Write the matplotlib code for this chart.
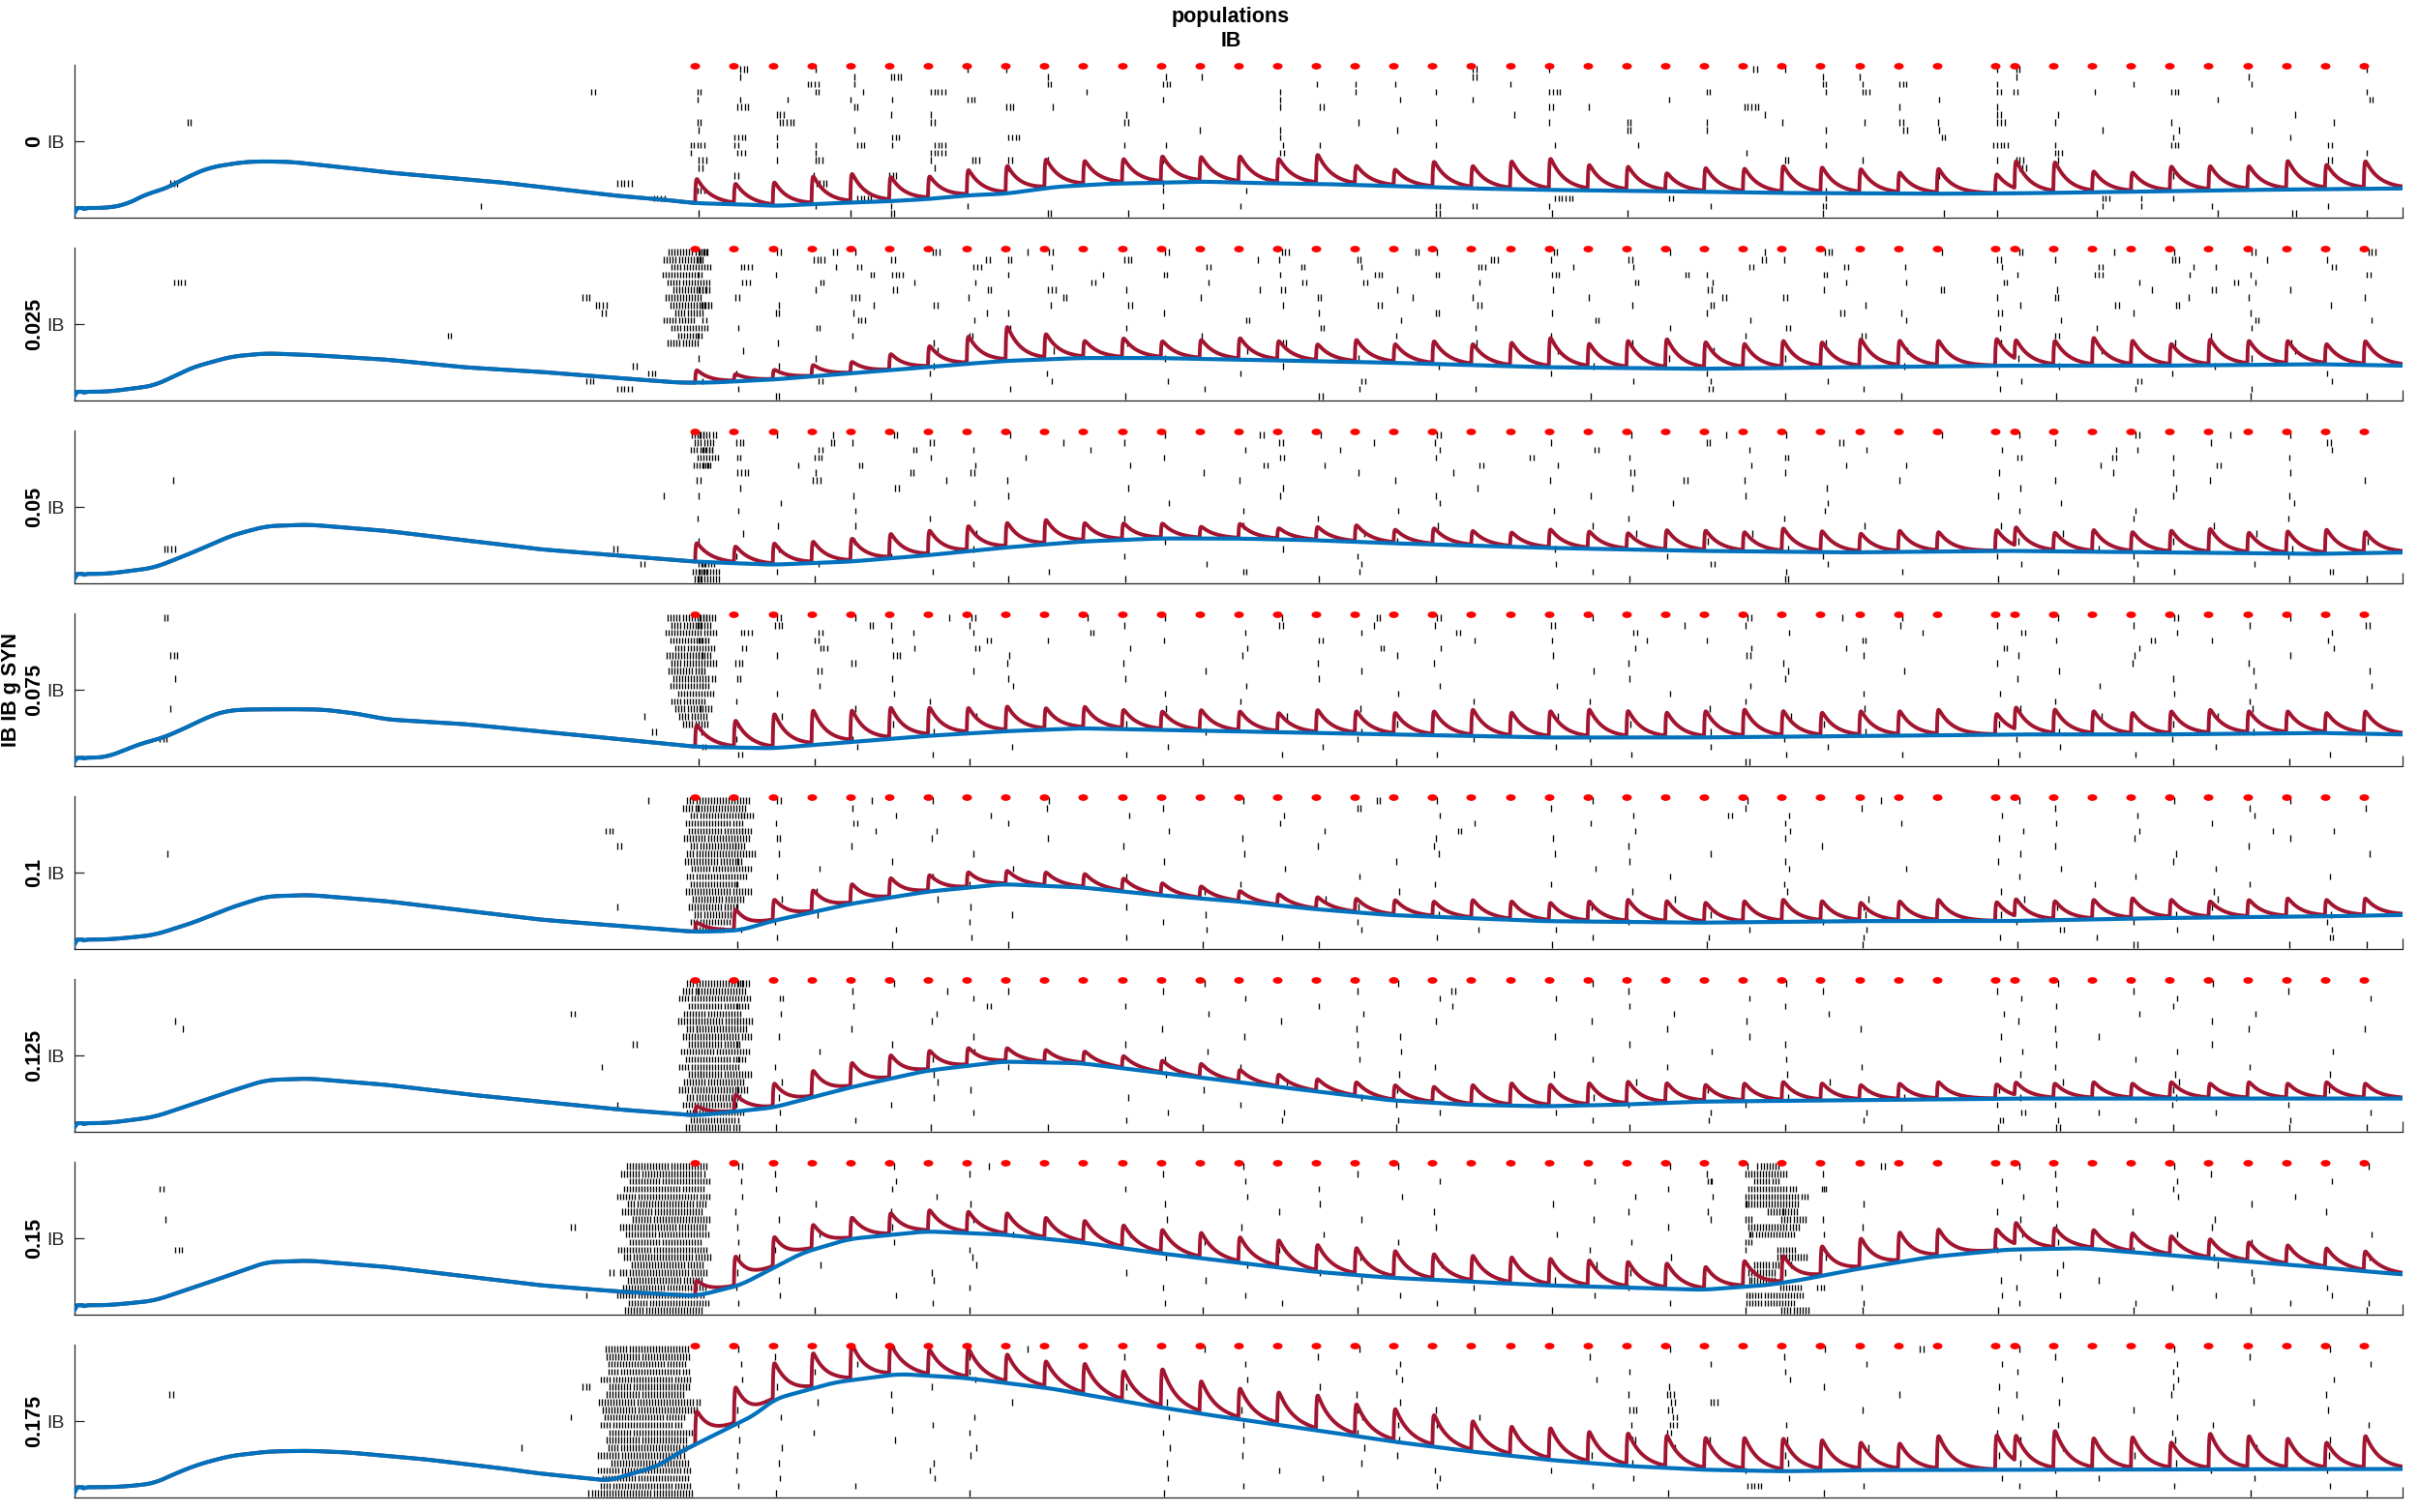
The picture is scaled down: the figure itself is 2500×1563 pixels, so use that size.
import numpy as np
import matplotlib
matplotlib.use("Agg")
import matplotlib.pyplot as plt
from matplotlib.path import Path

plt.rcParams['font.family'] = ['Liberation Sans', 'DejaVu Sans']

# ---------------- text ----------------
title_lines = ["populations", "IB"]
group_label = "IB IB g SYN"
ytick_label = "IB"
panel_labels = ["0", "0.025", "0.05", "0.075", "0.1", "0.125", "0.15", "0.175"]

# ---------------- stimulus times (ms) ----------------
stim_times = [800, 850, 900, 950, 1000, 1050, 1100, 1150, 1200, 1250, 1300, 1350,
              1400, 1450, 1500, 1550, 1600, 1650, 1700, 1750, 1800, 1850, 1900,
              1950, 2000, 2050, 2100, 2150, 2200, 2250, 2300, 2350, 2400, 2475,
              2500, 2550, 2600, 2650, 2700, 2750, 2800, 2850, 2900, 2950]

# typical burst latency of each cell after a stimulus (ms), top row first
row_latency = [6, 3, 9, 4, 11, 5, 2, 8, 4, 10, 6, 3, 7, 12, 5, 8, 3, 9, 6, 4]

# ---------------- slow (blue) traces: control points (ms, row units) ----------------
base_t_0 = [0, 4, 41, 66, 83, 96, 112, 133, 154, 175, 195, 216, 237, 278, 320, 362, 403, 549, 620, 692, 763, 801, 856, 903, 978, 1042, 1100, 1153, 1200, 1265, 1330, 1376, 1450, 1525, 1600, 1700, 1800, 1900, 2000, 2100, 2200, 2300, 2400, 2500, 2647, 2800, 3000]
base_y_0 = [1.0, 1.72, 1.72, 2.14, 3.0, 3.75, 4.0, 5.1, 6.2, 7.05, 7.4, 7.73, 7.86, 7.8, 7.35, 6.9, 6.4, 5.1, 4.26, 3.4, 2.78, 2.35, 2.2, 2.0, 2.35, 2.57, 2.9, 3.4, 3.6, 4.5, 4.9, 5.0, 5.2, 5.0, 4.9, 4.6, 4.3, 4.1, 4.0, 3.85, 3.7, 3.65, 3.6, 3.65, 3.85, 4.1, 4.3]

base_t_1 = [0, 4, 41, 66, 103, 153, 203, 247, 302, 401, 501, 600, 700, 779, 819, 899, 998, 1097, 1196, 1296, 1395, 1495, 1693, 1892, 2091, 2290, 2489, 2687, 2886, 3000]
base_y_1 = [1.0, 1.6, 1.6, 1.9, 2.4, 4.83, 6.24, 6.65, 6.45, 5.84, 4.83, 4.22, 3.41, 2.8, 2.8, 3.2, 4.0, 4.83, 5.64, 6.04, 6.04, 5.84, 5.43, 4.83, 4.62, 4.83, 5.03, 5.03, 5.23, 5.03]

base_t_2 = [0, 4, 41, 66, 103, 153, 203, 247, 302, 401, 501, 600, 700, 801, 899, 998, 1097, 1196, 1296, 1395, 1495, 1594, 1693, 1892, 2091, 2290, 2489, 2687, 2886, 3000]
base_y_2 = [1.0, 1.69, 1.69, 2.0, 2.5, 4.52, 6.75, 7.97, 8.17, 7.36, 6.14, 4.93, 4.12, 3.3, 2.9, 3.3, 4.12, 5.13, 5.94, 6.35, 6.35, 6.14, 5.74, 5.13, 4.72, 4.52, 4.72, 4.52, 4.32, 4.52]

base_t_3 = [0, 4, 41, 87, 112, 133, 154, 175, 195, 216, 278, 320, 362, 403, 501, 600, 700, 801, 899, 998, 1097, 1196, 1296, 1395, 1495, 1693, 1892, 2091, 2290, 2489, 2687, 2886, 3000]
base_y_3 = [1.0, 1.55, 1.6, 3.46, 4.1, 5.0, 6.0, 7.05, 7.7, 7.9, 7.95, 7.9, 7.4, 6.6, 6.0, 5.03, 4.02, 3.0, 2.8, 3.61, 4.42, 5.03, 5.43, 5.23, 5.03, 4.62, 4.22, 4.22, 4.42, 4.62, 4.62, 4.83, 4.62]

base_t_4 = [0, 4, 41, 66, 103, 153, 203, 247, 302, 401, 501, 600, 700, 801, 858, 899, 998, 1097, 1196, 1296, 1395, 1495, 1594, 1693, 1892, 2091, 2290, 2489, 2687, 2886, 3000]
base_y_4 = [1.0, 1.69, 1.69, 1.9, 2.29, 3.91, 5.94, 7.36, 7.56, 6.75, 5.54, 4.32, 3.51, 2.7, 2.9, 4.12, 6.35, 7.97, 8.98, 8.57, 7.56, 6.75, 5.74, 4.93, 4.12, 3.91, 4.12, 4.12, 4.52, 4.72, 4.93]

base_t_5 = [0, 4, 41, 66, 103, 153, 203, 247, 302, 401, 501, 600, 700, 801, 899, 998, 1097, 1196, 1296, 1395, 1495, 1594, 1693, 1793, 1892, 1992, 2091, 2290, 2489, 2687, 2886, 3000]
base_y_5 = [1.0, 1.58, 1.6, 1.9, 2.4, 4.1, 5.84, 7.26, 7.46, 6.65, 5.43, 4.42, 3.41, 2.6, 3.61, 6.24, 8.47, 9.69, 9.49, 8.27, 7.05, 5.84, 4.62, 4.02, 3.81, 4.02, 4.42, 4.62, 4.83, 4.83, 4.83, 4.83]

base_t_6 = [0, 4, 41, 66, 103, 153, 203, 247, 302, 401, 501, 600, 700, 801, 858, 938, 998, 1097, 1196, 1296, 1395, 1495, 1594, 1693, 1892, 2098, 2182, 2223, 2286, 2389, 2489, 2588, 2687, 2787, 2886, 3000]
base_y_6 = [1.0, 1.69, 1.69, 1.9, 2.29, 4.0, 5.74, 7.36, 7.56, 6.75, 5.54, 4.32, 3.51, 2.9, 4.32, 8.57, 10.4, 11.41, 11.0, 9.99, 8.57, 7.36, 6.14, 5.33, 4.32, 3.72, 4.35, 4.99, 6.26, 8.0, 9.0, 9.2, 8.37, 7.56, 6.75, 5.74]

base_t_7 = [0, 4, 41, 66, 103, 130, 160, 200, 250, 300, 350, 450, 550, 600, 652, 690, 715, 752, 777, 802, 839, 877, 902, 980, 1063, 1146, 1258, 1369, 1463, 1600, 1700, 1800, 1900, 2000, 2100, 2200, 2300, 2500, 2700, 3000]
base_y_7 = [1.0, 1.8, 1.8, 1.9, 2.3, 3.6, 4.8, 5.9, 6.5, 6.6, 6.4, 5.5, 4.3, 3.6, 3.08, 2.65, 3.5, 4.55, 6.25, 7.5, 9.4, 11.3, 13.4, 15.6, 16.7, 16.2, 14.8, 12.8, 11.3, 9.3, 7.8, 6.5, 5.4, 4.6, 4.1, 3.9, 4.05, 4.1, 4.15, 4.2]

# ---------------- peak heights of the fast (red) trace at each stimulus ----------------
peak_0 = [5.53, 4.69, 4.9, 5.66, 5.96, 5.53, 5.66, 6.51, 7.02, 7.86, 7.65, 7.95, 8.29, 8.2, 8.29, 7.95, 8.5, 7.02, 6.6, 7.65, 7.02, 7.65, 7.95, 7.1, 6.93, 6.09, 6.81, 6.68, 7.02, 6.81, 6.6, 6.17, 6.68, 6.09, 7.23, 7.44, 6.26, 6.2, 7.0, 7.0, 7.0, 7.7, 7.15, 7.65]
peak_1 = [4.42, 3.81, 4.42, 5.03, 5.43, 6.45, 7.46, 8.68, 9.89, 8.88, 8.07, 8.47, 8.07, 8.27, 8.47, 8.07, 7.66, 8.27, 7.66, 8.07, 7.66, 7.86, 8.47, 7.66, 8.07, 8.27, 7.86, 7.66, 8.07, 7.86, 8.27, 8.07, 8.07, 8.47, 7.46, 8.07, 8.47, 8.07, 7.66, 8.27, 8.07, 8.07, 7.66, 8.07]
peak_2 = [5.74, 5.13, 5.54, 5.74, 6.14, 6.75, 7.16, 7.76, 8.17, 8.57, 8.17, 8.17, 8.17, 7.76, 8.17, 7.56, 7.76, 7.97, 7.36, 7.56, 7.2, 7.0, 7.4, 7.1, 6.9, 7.3, 7.2, 7.0, 7.5, 7.1, 6.8, 7.2, 7.0, 7.4, 7.1, 6.9, 7.3, 7.0, 7.2, 7.4, 6.9, 7.1, 7.3, 7.0]
peak_3 = [5.84, 6.24, 7.05, 7.46, 7.46, 7.86, 7.86, 7.86, 8.07, 7.86, 8.07, 7.66, 7.46, 7.66, 7.46, 7.26, 7.66, 7.46, 7.26, 7.46, 7.66, 7.26, 7.46, 7.66, 7.46, 7.26, 7.46, 7.66, 7.46, 7.26, 7.46, 7.46, 7.66, 7.26, 7.46, 7.66, 7.46, 7.26, 7.46, 7.66, 7.46, 7.46, 7.26, 7.46]
peak_4 = [3.91, 5.54, 6.75, 7.97, 8.78, 9.59, 9.99, 10.4, 10.6, 10.4, 10.2, 9.59, 8.98, 8.57, 7.97, 7.56, 7.16, 6.95, 6.75, 6.55, 6.75, 6.55, 6.35, 6.55, 6.75, 6.55, 6.35, 6.55, 6.75, 6.55, 6.35, 6.55, 6.75, 6.55, 6.35, 6.55, 6.75, 6.95, 6.75, 6.55, 6.75, 6.95, 6.75, 6.95]
peak_5 = [3.81, 5.23, 6.65, 8.27, 9.28, 10.3, 10.9, 11.3, 11.3, 11.1, 10.9, 10.3, 9.69, 9.28, 8.47, 7.86, 7.26, 6.85, 6.45, 6.24, 6.45, 6.65, 6.45, 6.65, 6.85, 6.65, 6.45, 6.65, 6.85, 6.65, 6.45, 6.65, 6.85, 6.65, 6.45, 6.65, 6.85, 6.65, 6.85, 6.65, 6.85, 6.65, 6.85, 6.65]
peak_6 = [4.93, 7.97, 10.4, 12.0, 13.0, 13.6, 14.0, 13.8, 13.6, 13.0, 12.6, 12.0, 11.4, 11.0, 10.4, 10.0, 9.38, 8.98, 8.57, 8.17, 7.97, 7.76, 7.56, 7.36, 7.16, 6.95, 6.5, 7.3, 7.95, 9.2, 10.2, 11.0, 11.4, 11.6, 11.8, 11.6, 11.4, 11.0, 10.6, 10.2, 9.8, 9.4, 9.0, 8.6]
peak_7 = [11.76, 14.65, 17.8, 19.1, 20.2, 20.2, 19.6, 19.8, 19.0, 18.1, 17.8, 16.8, 17.05, 15.4, 14.5, 14.0, 13.6, 12.4, 11.8, 11.0, 10.2, 9.5, 9.3, 8.8, 8.6, 8.3, 8.0, 8.0, 7.9, 7.7, 7.4, 7.3, 8.3, 8.55, 7.4, 8.9, 7.9, 8.1, 7.4, 8.6, 8.2, 7.9, 7.4, 8.3]

# ---------------- spikes ----------------
# individual bursts: (row, start ms, number of spikes)
bursts_0 = [
    (20, 858, 3), (20, 955, 1), (20, 1151, 1), (20, 1201, 1), (20, 1802, 2), (20, 1901, 1), (20, 2164, 2), (20, 2204, 1), (20, 2478, 1), (20, 2502, 2), (20, 2954, 1),
    (19, 858, 1), (19, 1005, 1), (19, 1052, 4), (19, 1254, 1), (19, 1407, 1), (19, 1453, 1), (19, 1802, 2), (19, 2253, 1), (19, 2300, 1), (19, 2503, 1), (19, 2802, 1),
    (18, 945, 4), (18, 1005, 1), (18, 1254, 2), (18, 1403, 3), (18, 1601, 1), (18, 1651, 1), (18, 1702, 1), (18, 1851, 1), (18, 2253, 2), (18, 2304, 1), (18, 2352, 3), (18, 2478, 1), (18, 2653, 1), (18, 2805, 1),
    (17, 666, 2), (17, 803, 2), (17, 955, 2), (17, 1016, 1), (17, 1104, 5), (17, 1304, 1), (17, 1554, 1), (17, 1651, 1), (17, 1755, 1), (17, 1901, 4), (17, 2103, 2), (17, 2257, 1), (17, 2304, 3), (17, 2478, 2), (17, 2499, 2), (17, 2603, 1), (17, 2702, 3), (17, 2954, 1),
    (16, 803, 1), (16, 858, 1), (16, 919, 1), (16, 1000, 1), (16, 1054, 1), (16, 1151, 3), (16, 1403, 1), (16, 1554, 1), (16, 1709, 1), (16, 1802, 1), (16, 2055, 1), (16, 2403, 1), (16, 2762, 1), (16, 2957, 2),
    (15, 855, 4), (15, 1005, 2), (15, 1201, 3), (15, 1261, 1), (15, 1554, 1), (15, 1605, 2), (15, 1901, 2), (15, 1951, 1), (15, 2152, 5), (15, 2352, 1), (15, 2478, 1),
    (14, 905, 3), (14, 1052, 1), (14, 1104, 1), (14, 1356, 1), (14, 1856, 1), (14, 2179, 1), (14, 2478, 2), (14, 2556, 1), (14, 2862, 1),
    (13, 146, 2), (13, 803, 2), (13, 909, 5), (13, 1104, 2), (13, 1353, 2), (13, 1655, 1), (13, 1755, 1), (13, 1901, 1), (13, 2001, 2), (13, 2103, 1), (13, 2201, 1), (13, 2307, 1), (13, 2352, 2), (13, 2402, 1), (13, 2478, 3), (13, 2552, 1), (13, 2702, 1), (13, 2912, 1),
    (12, 805, 1), (12, 1005, 1), (12, 1450, 1), (12, 1554, 1), (12, 1705, 1), (12, 2001, 2), (12, 2103, 1), (12, 2257, 1), (12, 2357, 2), (12, 2403, 1), (12, 2613, 1), (12, 2712, 1), (12, 2805, 1),
    (11, 851, 4), (11, 905, 1), (11, 1054, 3), (11, 1204, 4), (11, 1554, 1), (11, 2406, 2), (11, 2705, 1), (11, 2855, 1),
    (10, 794, 5), (10, 851, 2), (10, 905, 1), (10, 955, 1), (10, 1009, 3), (10, 1054, 1), (10, 1109, 4), (10, 1353, 1), (10, 1407, 1), (10, 1558, 1), (10, 1605, 1), (10, 1755, 1), (10, 1908, 1), (10, 2015, 1), (10, 2257, 1), (10, 2473, 5), (10, 2552, 1), (10, 2702, 3), (10, 2904, 2),
    (9, 794, 1), (9, 855, 3), (9, 955, 1), (9, 1104, 5), (9, 1554, 2), (9, 2155, 1), (9, 2552, 3), (9, 2954, 1),
    (8, 805, 3), (8, 905, 1), (8, 955, 3), (8, 1104, 1), (8, 1157, 3), (8, 1204, 2), (8, 1254, 1), (8, 1403, 1), (8, 2204, 2), (8, 2304, 1), (8, 2478, 1), (8, 2502, 3), (8, 2556, 1), (8, 2904, 2),
    (7, 805, 2), (7, 1109, 1), (7, 1204, 1), (7, 1802, 1), (7, 2506, 3),
    (6, 851, 2), (6, 953, 1), (6, 1050, 3), (6, 1851, 1), (6, 2403, 1), (6, 2705, 1),
    (5, 124, 3), (5, 700, 5), (5, 956, 4), (5, 1403, 1),
    (4, 803, 3), (4, 1403, 1), (4, 1510, 1), (4, 2257, 1),
    (3, 747, 4), (3, 1009, 5), (3, 1908, 6), (3, 2055, 2), (3, 2257, 1), (3, 2613, 3), (3, 2663, 1), (3, 2705, 1),
    (2, 524, 1), (2, 955, 1), (2, 1052, 1), (2, 1151, 1), (2, 1403, 1), (2, 1503, 1), (2, 1755, 2), (2, 1802, 2), (2, 1901, 1), (2, 2108, 1), (2, 2253, 2), (2, 2613, 1), (2, 2663, 1), (2, 2755, 1), (2, 2904, 1),
    (1, 805, 1), (1, 1000, 1), (1, 1052, 2), (1, 1254, 2), (1, 1358, 1), (1, 1755, 2), (1, 1904, 1), (1, 2001, 1), (1, 2253, 1), (1, 2409, 1), (1, 2478, 1), (1, 2606, 1), (1, 2762, 1), (1, 2858, 2), (1, 2954, 1),
]
bursts_1 = [(16, 129, 4), (9, 481, 2), (14, 655, 3), (13, 672, 4), (12, 680, 2), (3, 660, 3), (2, 700, 5), (5, 720, 2), (4, 740, 3)]
bursts_2 = [(14, 127, 1), (5, 116, 4), (5, 695, 2), (12, 760, 1), (3, 730, 2)]
bursts_3 = [(20, 116, 2), (15, 124, 3), (12, 130, 1), (8, 124, 1), (4, 110, 3), (7, 735, 1), (5, 745, 2)]
bursts_4 = [(13, 120, 1), (16, 685, 3), (14, 700, 2), (6, 700, 1), (20, 740, 1)]
bursts_5 = [(15, 130, 1), (14, 140, 1), (16, 640, 2), (9, 680, 1), (12, 720, 2), (4, 700, 1)]
bursts_6 = [(17, 110, 2), (13, 118, 1), (9, 130, 3), (12, 640, 2), (3, 660, 1), (6, 690, 2),
            (18, 2105, 2), (14, 2105, 1), (17, 2252, 2), (13, 2253, 1), (11, 2254, 1), (4, 2246, 3)]
bursts_7 = [(14, 123, 2), (7, 576, 1), (15, 655, 3), (11, 640, 1)]

# stimulus-locked bursts: one string per row (top row first), one character per stimulus
# (4 groups of 11); digit = spikes in an early burst, letter a-f = 1-6 spikes in a late burst
grid_1 = [
    "3.2b1.3.a2. .2..3..b1.. 2..1.a.3..1 .2.a.1.2..3",
    "2..4.2.b2.. 3..a1.2..c. 1.2..b1.... 2.1..3.a.1.",
    ".4.a2..3.1. ..2.b.1..3. a.1..2.b.1. 1..2.a1..2.",
    "2.1.b4..1.a .2..1.c.2.. 3..b1..2... .1.3.a.1..2",
    ".3.2.a.1..2 ..1.b.2..1. ..2.1..a.1. 2...1.b1...",
    "4..1.2.b.3. 1..a2..1... 1...2..1..2 ..1.a.2.1..",
    ".2..3..1.b. ..1..2.a.1. .1..b.2.... 1.2..a.1..1",
    "3.1.a.2..1. 2...1.b..2. ..1.2...1.. .1.b.2...1.",
    "..2.1..a1.. .1...1..2.. 1...1..b.1. 2...1..1...",
    "2...3..1... ...2...1... .2...1...1. ..1....2..1",
    ".1.2....1.. 1....2...1. ...1..2.... 1..1...1...",
    "1...1..2... ..1....1... 1....1..2.. ..2...1....",
    "..1...1.... 1...2....1. ..1....1... 1....1..1..",
    ".1....1..1. ...1....... 1...1....1. ...1....1..",
    "1..1....... .1....1.... ...1..1.... .1.....1...",
    "..1...1.... ....1...1.. .1.......1. ..1...1....",
    ".1....1..1. ...1....... 1...1...... 1....1...1.",
    "1..2.....1. .1....2.... ..1.1..1... .1..2....1.",
    ".1..1...1.. ..1...1..1. ....2...1.. 1...1..1...",
    "..2...1.... 1....2..1.. .1....1..1. ..1....1..1",
]
grid_2 = [
    "2.1a.2..1.. .1.b.1..2.. ..1.a.1...1 .1..2.a.1..",
    ".3.b1.2..a. 1...2.a.1.. 1...2..b... ..1...1..2.",
    "4..2.b.1..1 ...1.a..1.. .2...1..1.. 1..a1....1.",
    ".2.3..1.a.. .1..2...1.b ..1...2.... .2.b.1..1..",
    "3.a.2..1... 1..b.1...2. 1....1.a.1. ...1..2....",
    ".4.1.b.2... ..1...1.a.. ..2...1.... 1..a.1..1..",
    "2..3..a.1.. ...1...1... 1..b.1...1. ..1...1...1",
    ".1...2..... 1...1....1. ..1....1... .1...1.....",
    "1...1...1.. ....1...1.. .1...1..... 1....1..1..",
    "..1....1... .1......1.. ...1...1... ..1.....1..",
    ".1..1...... ...1...1... 1......1... .1..1......",
    "1.....1.... 1....1..... ..1...1.... ....1...1..",
    "..1.1...... ...1....1.. .1......1.. 1.....1....",
    ".1.....1... ......1.... ..1..1..... ..1....1...",
    "1...1...... .1.....1... ....1...... .1...1....1",
    "..1....1... ....1...... 1.....1.... ...1....1..",
    ".1...1..... 1.....1.... ...1...1... 1...1...1..",
    "2..1...1... ..1...1.... 1...2..1... .1..1..1...",
    "3.1...1..1. ...2..1.... .1....1..1. ..1..1...2.",
    "2..1....1.. 1....1..1.. ..1...2.... 1...1...1.1",
]
grid_3 = [
    "3.2.1.a2..1 .1..1.b.2.. .1...2.a.1. ..1..2..1..",
    "2.3.b1.1... 1...2.a.1.. 2..a.1...1. 1...1..1..2",
    ".4.2.a.1..2 ...1..1.b.. ..2...1..a. .2...1...1.",
    "3..2.1.b.1. .1...2...1. 1.a.1...2.. ..1.b.1..1.",
    ".2.3.a.2... 1..1..b.1.. ..1..1.a... 2...1....1",
    "2.1..3..1.. ...1...1... 1....2..1.. .1..1...1..",
    ".3..2...1.. 1....1..1.. ..1...1.... 1...1..1...",
    "1..2...1... ..1...1.... .1....1..1. ..1....1..1",
    ".2...1..1.. 1....1..... ..1...1.... .1...1.....",
    "1..1....1.. ...1....1.. 1....1..... ...1...1..1",
    "..1..1..... .1.....1... ...1....1.. 1....1.....",
    ".1....1.... ...1.....1. .1...1..... ..1....1...",
    "1...1...... .1....1.... ....1...1.. .1.....1...",
    "..1....1... ....1...... 1.....1.... ...1..1....",
    ".1...1..... 1......1... ..1....1... 1....1.....",
    "1.....1.... ..1...1.... ....1...1.. ..1....1...",
    ".1..1...... ......1..1. .1....1.... .1...1....1",
    "2...1...1.. .1...1..... 1...1..1... ..1...1....",
    ".2....1.... 1...1...1.. ..1...1..1. .1..1....1.",
    "1..1...1... ..1....1... .1...2..... 1....1..1..",
]
grid_4 = [
    "..2.a.1..1. ...1..b.1.. .1...1..a.. .1...1..1..",
    "1...1....1. .1....2.... 1....1..1.. ..1....1..1",
    ".2...1.a... 1...1...1.. ..1.b.1.... 1...1..1...",
    "..1.2...1.. ....1....1. .1....1..1. ..1...1....",
    ".1..a.1.... .1...1..b.. ..1...1.... .1..1..a.1.",
    "..2...1..1. ...1....1.. 1.....1.... 1...1...1..",
    ".1..1...... 1....1..1.. ..1....1... ..1....1...",
    "..1....1... ...1....1.. 1...1...... .1...1....1",
    ".1...1..... .1.....1... ..1...1.... 1....1.....",
    "...1....1.. ....1...... .1....1..1. ..1...1....",
    "..1...1.... 1.....1.... ...1....... .1..1....1.",
    ".1.....1... ...1....1.. 1.....1.... ...1...1...",
    "...1....... ..1....1... ..1...1.... 1.....1....",
    "..1...1.... .....1..... ...1....1.. .1....1....",
    ".1.....1... 1.....1.... .1......1.. ..1...1....",
    "...1....1.. ..1.....1.. ....1...1.. 1....1...1.",
    "..1....1... .1....1.... ..1....1... .1..1....1.",
    ".1...1..... ..1...1..1. 1....1..1.. ..2..1...1.",
    "..1....1... 1...1...1.. .1..1...1.. 1..1..1..2.",
    ".1...1..1.. ..1..1..... 1...1...1.. .1..2...1.1",
]
grid_5 = [
    ".2...1..... ..1....1... .1....1.... ..1...1....",
    "1...1.a.1.. .1....1.b.. ..1....1... 1...1...1..",
    "..2....1... ...1....1.. 1....1..... .1...1....1",
    ".1..1..b... 1....1..a.. ..1...1.... ..1..1.....",
    "..1...1.... ..1...1.... ...1...1... 1...1..1...",
    ".1....1.... ....1...1.. .1...1..... .1....1....",
    "1...1...... .1....1.... ...1....1.. ..1....1..1",
    "..1....1... ...1...1... 1....1..... 1..1.......",
    ".1...1..... 1.....1.... ..1...1.... ..1...1....",
    "...1...1... ..1....1... ....1...... .1...1...1.",
    ".1....1.... .1....1.... .1....1.... 1...1......",
    "..1.....1.. ...1....1.. ...1....1.. ..1....1...",
    "1.....1.... .1.....1... 1.....1.... .1...1...1.",
    "..1...1.... ....1...... ..1....1... ..1..1.....",
    ".1.....1... ..1....1... ....1...... 1....1...1.",
    "..1...1.... 1.....1.... .1....1..1. .1...1.....",
    ".1...1..... ...1...1... ..1..1..... 1.1..1..1..",
    "..1....1... .1..1...1.. 1...1...1.. .2.1..1...1",
    ".1..1...... 1...1..1... .1..1...1.. 2.1.1...1..",
    "..1...1..1. ..1....1... ..1...1..1. 1.2..1..1.1",
]
grid_6 = [
    ".2...1.a... ...1...1... ...1.1..b.. .1...1....1",
    "..1....1... .1....1.... ....1..1... ..1...1....",
    ".1...1..... ...1....1.. .1..1...... 1....1...1.",
    "..1..1..... 1....1..... ...1...1... ..1..1.....",
    ".1....1.... ...1...1... ..1.1...... .1...1..1..",
    "...1...1... .1...1..... 1....1..1.. ..1....1...",
    ".1...1..... ....1...1.. ..1...1.... 1...1....1.",
    "..1....1... .1....1.... .1..1...... .1....1....",
    ".1...1..... ...1....1.. ...1....1.. ..1...1....",
    "...1....1.. 1....1..... 1....1..... .1...1....1",
    ".1...1..... ..1....1... ..1.....1.. ..1....1...",
    "..1....1... ....1...... .1...1..... 1...1......",
    ".1.....1... .1....1.... ...1...1... .1....1...1",
    "...1...1... ...1....1.. .1....1.... ..1...1....",
    ".1....1.... 1....1..... ..1...1.... ..1....1...",
    "..1...1.... ..1...1.... 1....1..... 1..1...1...",
    ".1.....1... .1....1..1. ..1.....1.. .1...1...1.",
    "..1..1..... ...1...1... .1...1..... 1.1...1..1.",
    ".1....1.... .1..1...1.. ...1....1.. .1..1...1.1",
    "...1...1... ..1...1..1. 1....1..1.. 1...1..1..1",
]
grid_7 = [
    ".1...1..a.. ..1...1.... ...1...1.b. .1...1...1.",
    "..1....1... 1....1..... .1....1.... ..1....1...",
    ".1..1...... ...1...1... ....1...1.. 1....1....1",
    "...1...1... .1.....1... ..1...1.... .1...1.....",
    ".1.....1... ...1...1... .1....1.... ..1..1...1.",
    "..1...1.... 1....1..... ...1...1... 1....1.....",
    ".1...1..... ..1...1.... ..13.....1. .1...1...1.",
    "...1....1.. .1.....1... ...23...... ..1....1...",
    ".1...1..... ...1..1.1.. ..32....1.. 1...1....1.",
    "..1....1... .1....1..1. ...2....... .1...1.....",
    ".1....1.... ...1...11.. ..13..1.... ..1...1...1",
    "...1...1... .1....1.... ...2....... 1....1.....",
    ".1...1..... ...1...1... ..2.1.1.... .1...1...1.",
    "..1....1... .1....1.... ...1....1.. ..1....1...",
    ".1.....1... ...1...1... .1....1.... 1...1....1.",
    "..1...1.... .1....1.... ..1...1.... .1...1.....",
    ".1....1.... ....1...1.. 1....1..... ..1...1..1.",
    "..1...1.... .1...1..1.. ..1...1.... 1..1...1...",
    ".1..1...... ...1....1.. .1...5..1.. .1...1...1.",
    "..1....1... .1....1.... ...1...1... ..1....1..1",
]

# dense firing periods: (row, start ms, end ms)
block_1 = [(20, 766, 818), (19, 760, 812), (18, 770, 822), (17, 758, 805), (16, 765, 820), (15, 772, 815), (14, 762, 810), (13, 768, 822), (12, 775, 812), (11, 760, 800), (10, 770, 818), (9, 778, 812), (8, 765, 805)]
block_2 = [(20, 796, 830), (19, 800, 826), (18, 795, 822), (17, 803, 832), (16, 798, 818), (3, 805, 826), (2, 797, 835), (1, 800, 832)]
block_3 = [(20, 765, 826), (19, 770, 820), (18, 762, 830), (17, 768, 818), (16, 775, 828), (15, 763, 822), (14, 770, 829), (13, 766, 815), (12, 772, 826), (11, 768, 820), (10, 778, 824), (9, 770, 812), (8, 775, 822), (7, 780, 815), (6, 785, 818)]
block_4 = [(20, 790, 872), (19, 785, 868), (18, 795, 878), (17, 788, 862), (16, 792, 875), (15, 786, 870), (14, 795, 866), (13, 790, 878), (12, 787, 860), (11, 796, 874), (10, 790, 868), (9, 794, 858), (8, 788, 872), (7, 797, 862), (6, 792, 856), (5, 800, 850), (4, 795, 845), (3, 802, 840)]
block_5 = [(20, 790, 872), (19, 785, 866), (18, 780, 875), (17, 792, 870), (16, 786, 862), (15, 778, 874), (14, 790, 868), (13, 784, 872), (12, 792, 860), (11, 782, 870), (10, 788, 866), (9, 780, 858), (8, 792, 872), (7, 786, 864), (6, 780, 870), (5, 790, 860), (4, 784, 856), (3, 790, 866), (2, 794, 852), (1, 788, 860)]
block_6 = [(20, 712, 818), (19, 705, 815), (18, 716, 820), (17, 708, 812), (16, 700, 818), (15, 714, 816), (14, 706, 810), (13, 720, 820), (12, 703, 814), (11, 711, 818), (10, 716, 808), (9, 701, 816), (8, 709, 820), (7, 718, 812), (6, 704, 818), (5, 713, 810), (4, 707, 816), (3, 700, 814), (2, 715, 818), (1, 710, 812),
           (20, 2169, 2196), (19, 2153, 2207), (18, 2165, 2198), (17, 2157, 2219), (16, 2153, 2236), (15, 2153, 2223), (14, 2182, 2223), (13, 2153, 2163), (13, 2200, 2234), (12, 2157, 2225), (11, 2159, 2219), (10, 2153, 2163), (9, 2194, 2217), (8, 2194, 2234), (7, 2165, 2202), (6, 2157, 2194), (5, 2161, 2194), (4, 2198, 2227), (3, 2155, 2231), (2, 2155, 2219), (1, 2200, 2236)]
block_7 = [(20, 685, 794), (19, 686, 794), (18, 688, 789), (17, 689, 794), (16, 679, 796), (15, 690, 796), (14, 686, 785), (13, 676, 806), (12, 681, 806), (11, 683, 789), (10, 679, 785), (9, 690, 798), (8, 686, 789), (7, 689, 789), (6, 675, 789), (5, 692, 794), (4, 675, 796), (3, 681, 794), (2, 679, 796), (1, 663, 798)]

panels = [
    (base_t_0, base_y_0, peak_0, bursts_0, [], []),
    (base_t_1, base_y_1, peak_1, bursts_1, grid_1, block_1),
    (base_t_2, base_y_2, peak_2, bursts_2, grid_2, block_2),
    (base_t_3, base_y_3, peak_3, bursts_3, grid_3, block_3),
    (base_t_4, base_y_4, peak_4, bursts_4, grid_4, block_4),
    (base_t_5, base_y_5, peak_5, bursts_5, grid_5, block_5),
    (base_t_6, base_y_6, peak_6, bursts_6, grid_6, block_6),
    (base_t_7, base_y_7, peak_7, bursts_7, grid_7, block_7),
]

# ---------------- drawing ----------------
W, H = 2500, 1563
fig = plt.figure(figsize=(W / 100, H / 100), dpi=100)
AXC = (0.15, 0.15, 0.15)
RED = '#A2142F'
BLUE = '#0072BD'
x_left, x_right = 76.7, 2483.0
circ = Path.unit_circle()
dot_marker = Path(circ.vertices * np.array([1.0, 0.62]), circ.codes)

dt = 0.5
t = np.arange(0, 3000 + dt / 2, dt)
tau_r, tau_d = 0.7, 18.0
s_pk = tau_r * np.log(1 + tau_d / tau_r)
k_pk = (1 - np.exp(-s_pk / tau_r)) * np.exp(-s_pk / tau_d)
n_stim = len(stim_times)


def smooth_curve(bt, by):
    # line through the control points with rounded corners (30 ms window)
    y = np.interp(t, bt, by)
    w = int(30 / dt) | 1
    pad = w // 2
    yp = np.concatenate([np.full(pad, y[0]), y, np.full(pad, y[-1])])
    ys = np.convolve(yp, np.ones(w) / w, mode='valid')
    ys[:int(12 / dt)] = y[:int(12 / dt)]
    return ys


for k, (bt, by, pk, bursts, grid, blocks) in enumerate(panels):
    top = 66.7 + 189 * k
    bot = 225.0 + 189 * k
    ax = fig.add_axes([x_left / W, 1 - bot / H, (x_right - x_left) / W, (bot - top) / H])
    ax.set_xlim(0, 3000)
    ax.set_ylim(0.45, 20.6)

    xs, ys = [], []
    for (row, t0, n) in bursts:
        for j in range(n):
            xs.append(t0 + 4.5 * j); ys.append(row)
    for ri, line in enumerate(grid):
        row = 20 - ri
        chars = ''.join(b.ljust(11, '.')[:11] for b in line.split())[:n_stim]
        for ci, ch in enumerate(chars):
            if ch.isdigit():
                n, lat = int(ch), row_latency[ri]
            elif ch in 'abcdef':
                n, lat = 'abcdef'.index(ch) + 1, 22 + row_latency[ri]
            else:
                continue
            for j in range(n):
                xs.append(stim_times[ci] + lat + 4.5 * j); ys.append(row)
    for (row, t0, t1) in blocks:
        for tt in np.arange(t0, t1, 3.8):
            xs.append(tt); ys.append(row)
    xs = np.array(xs); ys = np.array(ys, dtype=float)
    if len(xs):
        ax.vlines(xs, ys - 0.42, ys + 0.42, color='black', lw=0.95, zorder=2)

    base = smooth_curve(bt, by)
    red = base.copy()
    for ts, p in zip(stim_times, pk):
        amp = p - np.interp(ts + s_pk, t, base)
        s = t - ts
        m = s > 0
        red[m] += amp * (1 - np.exp(-s[m] / tau_r)) * np.exp(-s[m] / tau_d) / k_pk
    ax.plot(t, red, color=RED, lw=2.8, zorder=3, solid_joinstyle='round')
    ax.plot(t, base, color=BLUE, lw=3.0, zorder=4, solid_joinstyle='round')

    ax.plot(stim_times, [20.4] * n_stim, linestyle='none', marker=dot_marker,
            ms=6.2, color='red', mec='red', zorder=5, clip_on=False)

    for side in ('top', 'right'):
        ax.spines[side].set_visible(False)
    for side in ('left', 'bottom'):
        ax.spines[side].set_color(AXC)
        ax.spines[side].set_linewidth(0.9)
    ax.set_yticks([10.5])
    ax.set_yticklabels([ytick_label])
    ax.set_xticks([0, 3000])
    ax.set_xticklabels([])
    ax.tick_params(axis='y', direction='in', length=7, width=0.9, color=AXC,
                   labelcolor=AXC, labelsize=14, pad=7)
    ax.tick_params(axis='x', direction='in', length=8, width=0.9, color=AXC)

    yc = 1 - (top + bot) / 2 / H
    fig.text(36 / W, yc, panel_labels[k], rotation=90, ha='center', va='center',
             fontsize=15.5, fontweight='bold')
    if k == 3:
        fig.text(12 / W, yc, group_label, rotation=90, ha='center', va='center',
                 fontsize=15.5, fontweight='bold')

fig.text(1272 / W, 1 - 23 / H, title_lines[0], ha='center', va='baseline',
         fontsize=15.5, fontweight='bold')
fig.text(1272 / W, 1 - 48 / H, title_lines[1], ha='center', va='baseline',
         fontsize=15.5, fontweight='bold')

fig.savefig('out.png', dpi=100)
